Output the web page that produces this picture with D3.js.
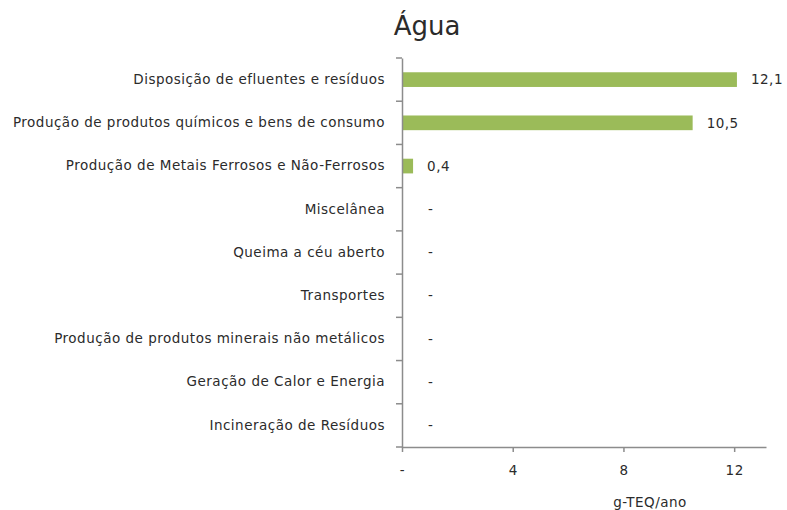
<!DOCTYPE html>
<html>
<head>
<meta charset="utf-8">
<script src="https://cdn.jsdelivr.net/npm/d3@7"></script>
<style>
  html, body { margin: 0; padding: 0; background: #fff; }
  svg { display: block; }
  text { font-family: "DejaVu Sans", Verdana, sans-serif; fill: #2b2b2b; }
</style>
</head>
<body>
<svg id="chart" width="787" height="510"></svg>
<script>
const title = "Água";
const categories = [
  "Disposição de efluentes e resíduos",
  "Produção de produtos químicos e bens de consumo",
  "Produção de Metais Ferrosos e Não-Ferrosos",
  "Miscelânea",
  "Queima a céu aberto",
  "Transportes",
  "Produção de produtos minerais não metálicos",
  "Geração de Calor e Energia",
  "Incineração de Resíduos"
];
const values = [12.1, 10.5, 0.4, 0, 0, 0, 0, 0, 0];
const xTicks = [0, 4, 8, 12];
const xMax = 13.15;
const axisTitle = "g-TEQ/ano";

const svg = d3.select("#chart");
const pLeft = 402, pRight = 766, pTop = 58, pBottom = 447;

const x = d3.scaleLinear().domain([0, xMax]).range([pLeft, pRight]);
const y = d3.scaleBand().domain(categories).range([pTop, pBottom]).paddingInner(0.66).paddingOuter(0.33);
const yb = d3.scaleBand().domain(categories).range([pTop, pBottom]);

const fmtVal = v => v === 0 ? "-" : d3.format(".1f")(v).replace(".", ",");
const fmtTick = v => v === 0 ? "-" : String(v);
const axisColor = "#8c8c8c";
const ls = "0.5px";
const fs = "13.5px";

// Title
svg.append("text").attr("x", 427).attr("y", 35).attr("text-anchor", "middle")
  .style("font-size", "26px").text(title);

// Bars
svg.append("g").selectAll("rect").data(values).join("rect")
  .attr("x", x(0))
  .attr("y", (d, i) => y(categories[i]))
  .attr("width", d => x(d) - x(0))
  .attr("height", y.bandwidth())
  .attr("fill", "#9BBB59");

// Value labels
svg.append("g").selectAll("text").data(values).join("text")
  .attr("x", d => d === 0 ? x(0) + 26 : x(d) + 14)
  .attr("y", (d, i) => yb(categories[i]) + yb.bandwidth() / 2)
  .attr("dy", "0.35em")
  .style("font-size", fs).style("letter-spacing", ls)
  .text(fmtVal);

// X axis
const xAxis = svg.append("g").attr("transform", `translate(0,${pBottom})`)
  .call(d3.axisBottom(x).tickValues(xTicks).tickFormat(fmtTick).tickSize(5).tickSizeOuter(0));
xAxis.select(".domain").attr("stroke", axisColor).attr("stroke-width", 1.5);
xAxis.selectAll(".tick line").attr("stroke", axisColor).attr("stroke-width", 1.5);
xAxis.selectAll(".tick text").attr("y", 18).style("font-size", fs).style("letter-spacing", ls)
  .style("font-family", "DejaVu Sans, sans-serif").attr("fill", "#2b2b2b");

// Y axis (labels only)
const yAxis = svg.append("g").attr("transform", `translate(${pLeft},0)`)
  .call(d3.axisLeft(yb).tickSize(0).tickPadding(17).tickSizeOuter(0));
yAxis.select(".domain").attr("stroke", axisColor).attr("stroke-width", 1.5);
yAxis.selectAll(".tick text").style("font-size", fs).style("letter-spacing", ls)
  .style("font-family", "DejaVu Sans, sans-serif").attr("fill", "#2b2b2b");

// Category boundary ticks
const bounds = categories.map(c => yb(c)).concat([pBottom]);
svg.append("g").selectAll("line").data(bounds).join("line")
  .attr("x1", pLeft - 6).attr("x2", pLeft)
  .attr("y1", d => d).attr("y2", d => d)
  .attr("stroke", axisColor).attr("stroke-width", 1.5);

// Axis title
svg.append("text").attr("x", 650).attr("y", 507).attr("text-anchor", "middle")
  .style("font-size", fs).style("letter-spacing", ls).text(axisTitle);
</script>
</body>
</html>
